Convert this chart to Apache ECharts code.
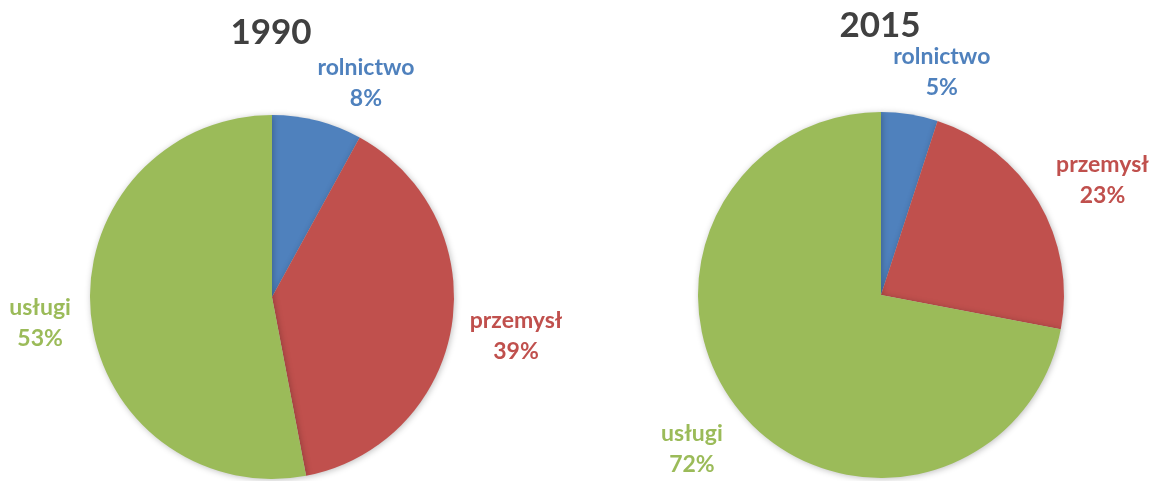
<!DOCTYPE html>
<html>
<head>
<meta charset="utf-8">
<script src="https://cdn.jsdelivr.net/npm/echarts@6/dist/echarts.min.js"></script>
<style>
html,body{margin:0;padding:0;background:#fff;}
#main{width:1151px;height:481px;}
</style>
</head>
<body>
<div id="main"></div>
<script>
var categories = ['rolnictwo', 'przemysł', 'usługi'];
var years = ['1990', '2015'];
var values1990 = [8, 39, 53];
var values2015 = [5, 23, 72];
var colors = ['#4F81BD', '#C0504D', '#9BBB59'];

var FONT = 'Lato';
// label nudges (style only), per label-ring series
var nudges = {
  2: [[34, 20], [6, 1], [8, 3]],
  3: [[22, 22], [8, 11], [2, -4]]
};
function mk(vals) {
  return categories.map(function (c, i) {
    return { name: c, value: vals[i], itemStyle: { color: colors[i] } };
  });
}
function pie(vals, center, r) {
  return {
    type: 'pie',
    center: center,
    radius: [0, r],
    startAngle: 90,
    clockwise: true,
    silent: true,
    label: { show: false },
    labelLine: { show: false },
    itemStyle: { shadowBlur: 6, shadowColor: 'rgba(0,0,0,0.25)', shadowOffsetX: 1, shadowOffsetY: 1 },
    data: mk(vals)
  };
}
function labelRing(vals, center, rMid) {
  return {
    type: 'pie',
    center: center,
    radius: [rMid - 10, rMid + 10],
    startAngle: 90,
    clockwise: true,
    silent: true,
    z: 5,
    itemStyle: { color: 'rgba(0,0,0,0)' },
    labelLine: { show: false },
    label: {
      show: true,
      position: 'inside',
      formatter: function (p) { return p.name + '\n' + p.value + '%'; },
      fontFamily: FONT,
      fontWeight: 'bold',
      fontSize: 23,
      lineHeight: 31,
      align: 'center'
    },
    labelLayout: function (p) {
      var n = nudges[p.seriesIndex] && nudges[p.seriesIndex][p.dataIndex];
      return n ? { dx: n[0], dy: n[1] } : {};
    },
    data: categories.map(function (c, i) {
      return { name: c, value: vals[i], label: { color: colors[i] } };
    })
  };
}

var chart = echarts.init(document.getElementById('main'));
chart.setOption({
  backgroundColor: '#fff',
  animation: false,
  title: [
    { text: years[0], left: 266, top: 10, textAlign: 'center',
      textStyle: { fontFamily: FONT, fontWeight: 'bold', fontSize: 35, color: '#404040' } },
    { text: years[1], left: 875, top: 3, textAlign: 'center',
      textStyle: { fontFamily: FONT, fontWeight: 'bold', fontSize: 35, color: '#404040' } }
  ],
  series: [
    pie(values1990, [272, 297], 182),
    pie(values2015, [881, 295], 183),
    labelRing(values1990, [272, 297], 238),
    labelRing(values2015, [881, 295], 245)
  ]
});
</script>
</body>
</html>
